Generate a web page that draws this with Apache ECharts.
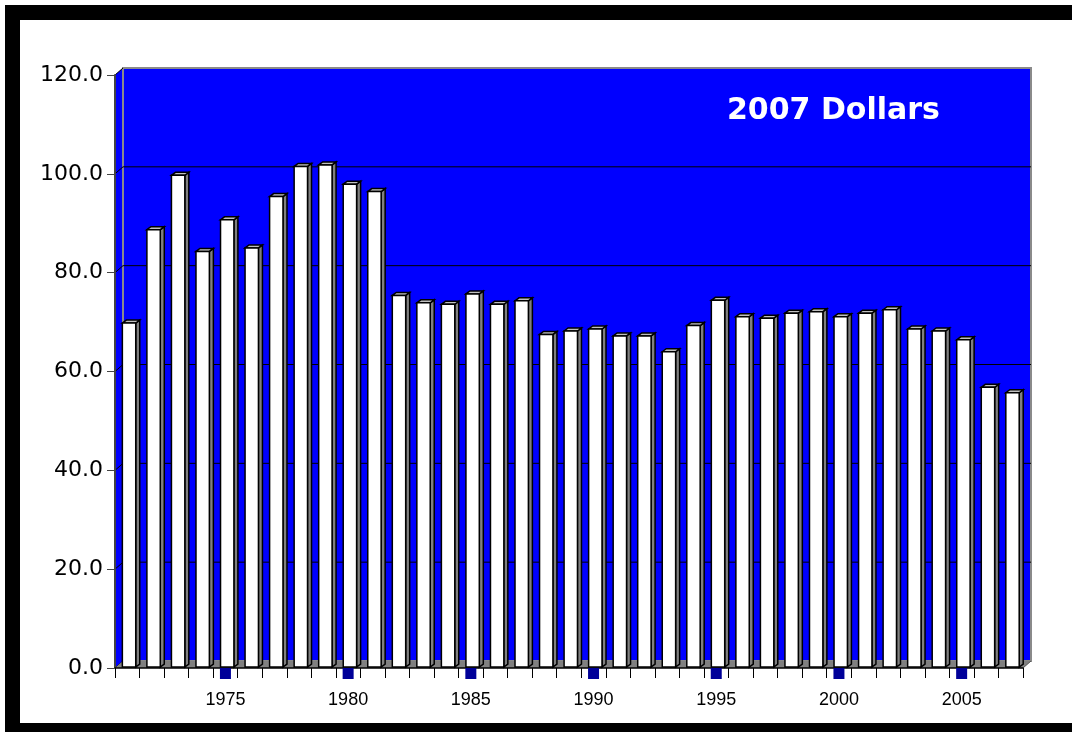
<!DOCTYPE html>
<html><head><meta charset="utf-8">
<script src="https://cdn.jsdelivr.net/npm/echarts@6/dist/echarts.min.js"></script>
<style>html,body{margin:0;padding:0;background:#fff}#c{width:1072px;height:732px}</style>
</head><body><div id="c"></div>
<script>
const years = ['1971','1972','1973','1974','1975','1976','1977','1978','1979','1980',
  '1981','1982','1983','1984','1985','1986','1987','1988','1989','1990',
  '1991','1992','1993','1994','1995','1996','1997','1998','1999','2000',
  '2001','2002','2003','2004','2005','2006','2007'];
const values = [69.8, 88.7, 99.7, 84.3, 90.7, 85.0, 95.4, 101.5, 101.8, 97.9,
  96.4, 75.4, 73.9, 73.6, 75.7, 73.6, 74.3, 67.5, 68.2, 68.6,
  67.2, 67.2, 64.0, 69.3, 74.4, 71.1, 70.8, 71.8, 72.1, 71.1,
  71.8, 72.5, 68.6, 68.2, 66.4, 56.8, 55.7];
const yMin = 0, yMax = 120, yStep = 20;
const titleText = '2007 Dollars';

const DX = 8, DY = 7;      // wall depth
const BDX = 4, BDY = 3;    // bar depth

const chart = echarts.init(document.getElementById('c'), null, {renderer: 'canvas'});

function wallsRender(params, api) {
  const cs = params.coordSys;
  const x0 = cs.x, x1 = cs.x + cs.width, yT = cs.y, yB = cs.y + cs.height;
  const blue = '#0000ff';
  const ch = [];
  ch.push({type: 'polygon', shape: {points: [[x0, yT], [x0 + DX, yT - DY], [x0 + DX, yB - DY], [x0, yB]]},
    style: {fill: blue}});
  ch.push({type: 'rect', shape: {x: x0 + DX, y: yT - DY, width: x1 - x0, height: yB - yT}},
  );
  ch[1].style = {fill: blue, stroke: '#8a8a8a', lineWidth: 2};
  for (let t = yMin; t <= yMax; t += yStep) {
    const y = api.coord([0, t])[1];
    if (t > yMin && t < yMax) {
      ch.push({type: 'line', shape: {x1: x0 + DX, y1: y - DY, x2: x1 + DX, y2: y - DY},
        style: {stroke: '#000', lineWidth: 1}});
    }
    ch.push({type: 'line', shape: {x1: x0, y1: y, x2: x0 + DX, y2: y - DY},
      style: {stroke: '#000', lineWidth: 1}});
  }
  ch.push({type: 'polygon', shape: {points: [[x0, yB], [x0 + DX, yB - DY], [x1 + DX, yB - DY], [x1, yB]]},
    style: {fill: '#808080'}});
  ch.push({type: 'line', shape: {x1: x1, y1: yB, x2: x1 + DX, y2: yB - DY},
    style: {stroke: '#555', lineWidth: 1}});
  return {type: 'group', children: ch};
}

function barRender(params, api) {
  const i = api.value(0), v = api.value(1);
  const base = api.coord([i, 0]);
  const top = api.coord([i, v]);
  const bw = api.size([1, 0])[0];
  const c = base[0];
  const fx0 = c - 0.2 * bw, fx1 = c + 0.345 * bw;
  const yb = base[1] - 1, yt = top[1];
  return {type: 'group', children: [
    {type: 'polygon', shape: {points: [[fx1, yb], [fx1, yt], [fx1 + BDX, yt - BDY], [fx1 + BDX, yb - BDY]]},
      style: {fill: '#808080', stroke: '#000', lineWidth: 1.5}},
    {type: 'polygon', shape: {points: [[fx0, yt], [fx0 + BDX, yt - BDY], [fx1 + BDX, yt - BDY], [fx1, yt]]},
      style: {fill: '#c0c0c0', stroke: '#000', lineWidth: 1.5}},
    {type: 'rect', shape: {x: fx0, y: yt, width: fx1 - fx0, height: yb - yt},
      style: {fill: '#ffffff', stroke: '#000', lineWidth: 1.5}}
  ]};
}

chart.setOption({
  animation: false,
  backgroundColor: '#ffffff',
  title: {
    text: titleText, left: 722, top: 91, padding: 5,
    textStyle: {color: '#ffffff', fontFamily: 'DejaVu Sans', fontWeight: 'bold', fontSize: 30}
  },
  grid: {left: 115, right: 49, top: 75, bottom: 64, containLabel: false},
  xAxis: {
    type: 'category', data: years, boundaryGap: true, z: 10,
    axisLine: {show: true, lineStyle: {color: '#000', width: 1.5}},
    axisTick: {show: true, interval: 0, length: 10, lineStyle: {color: '#000', width: 1}},
    axisLabel: {
      interval: (idx, val) => Number(val) % 5 === 0,
      margin: 0,
      formatter: v => '{sq|}\n{t|' + v + '}',
      rich: {
        sq: {width: 11, height: 11, lineHeight: 11, backgroundColor: '#000099'},
        t: {fontSize: 18, fontFamily: 'Liberation Sans', color: '#000', lineHeight: 42}
      }
    },
    splitLine: {show: false}
  },
  yAxis: {
    type: 'value', min: yMin, max: yMax, interval: yStep, z: 10,
    axisLine: {show: true, lineStyle: {color: '#444', width: 2}},
    axisTick: {show: true, length: 8, lineStyle: {color: '#444', width: 1}},
    axisLabel: {fontSize: 22, fontFamily: 'DejaVu Sans', color: '#000', margin: 12,
      formatter: v => v.toFixed(1)},
    splitLine: {show: false}
  },
  graphic: [
    {type: 'rect', shape: {x: 5, y: 5, width: 15, height: 727}, style: {fill: '#000'}, z: 100},
    {type: 'rect', shape: {x: 5, y: 5, width: 1067, height: 15}, style: {fill: '#000'}, z: 100},
    {type: 'rect', shape: {x: 5, y: 723, width: 1067, height: 9}, style: {fill: '#000'}, z: 100}
  ],
  series: [
    {type: 'custom', name: 'walls', silent: true, clip: false, z: 1,
      renderItem: wallsRender, data: [[0, 0]]},
    {type: 'custom', name: '2007 Dollars', clip: false, z: 3,
      renderItem: barRender, data: values.map((v, i) => [i, v])}
  ]
});
</script></body></html>
